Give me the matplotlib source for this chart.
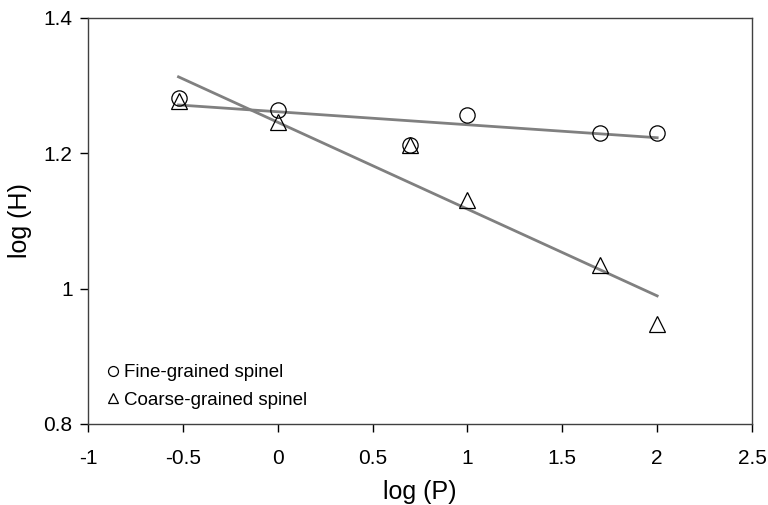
import matplotlib
matplotlib.use("Agg")
import matplotlib.pyplot as plt
import numpy as np
from matplotlib.ticker import FuncFormatter

# log pressure values
log_p = [-0.523, 0.0, 0.699, 1.0, 1.699, 2.0]
fine_h = [1.282, 1.264, 1.212, 1.257, 1.230, 1.230]
coarse_h = [1.278, 1.246, 1.212, 1.131, 1.035, 0.948]

plt.rcParams['font.family'] = ['Liberation Sans', 'DejaVu Sans']

fig = plt.figure(figsize=(7.68, 5.05), dpi=100)
ax = fig.add_axes([0.1146, 0.1604, 0.8646, 0.804])

# least-squares lines over the measured range
xs = np.array([min(log_p), max(log_p)])
for h in (fine_h, coarse_h):
    k, b = np.polyfit(log_p, h, 1)
    ax.plot(xs, k * xs + b, color="#808080", lw=2, zorder=1)

ax.plot(log_p, fine_h, "o", ms=11, mfc="none", mec="black", mew=0.9,
        label="Fine-grained spinel", zorder=2)
ax.plot(log_p, coarse_h, "^", ms=12, mfc="none", mec="black", mew=0.9,
        label="Coarse-grained spinel", zorder=2)

ax.set_xlim(-1, 2.5)
ax.set_ylim(0.8, 1.4)
ax.set_xticks([-1, -0.5, 0, 0.5, 1, 1.5, 2, 2.5])
ax.set_yticks([0.8, 1.0, 1.2, 1.4])
fmt = FuncFormatter(lambda v, p: "%g" % round(v, 2))
ax.xaxis.set_major_formatter(fmt)
ax.yaxis.set_major_formatter(fmt)
ax.tick_params(direction="out", length=6, width=1, labelsize=15)
ax.tick_params(axis="x", pad=12)
ax.tick_params(axis="y", pad=5)
for s in ax.spines.values():
    s.set_linewidth(1)
    s.set_color("#404040")

ax.set_xlabel("log (P)", fontsize=18, labelpad=9)
ax.set_ylabel("log (H)", fontsize=18, labelpad=8)

ax.legend(loc="lower left", bbox_to_anchor=(0.012, 0.015), frameon=False,
          fontsize=13.5, markerscale=0.65, handlelength=0.8,
          handletextpad=0.2, labelspacing=0.55, borderpad=0)

fig.savefig("out.png", dpi=100)
